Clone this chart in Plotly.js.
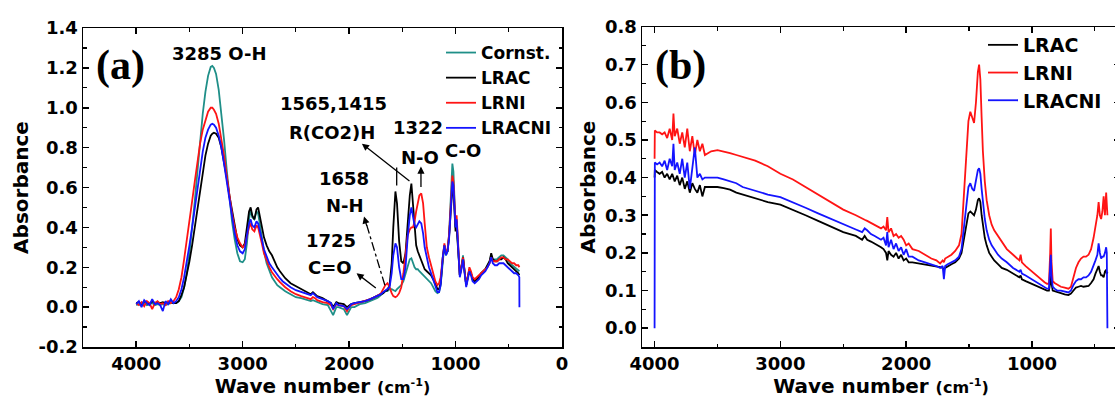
<!DOCTYPE html>
<html><head><meta charset="utf-8">
<script src="https://cdn.plot.ly/plotly-3.0.1.min.js"></script>
<style>html,body{margin:0;padding:0;overflow:hidden;background:#fff;width:1115px;height:401px}#chart{width:1140px;height:401px}</style>
</head><body><div id="chart"></div><script>
// ---------- Panel (a) data ----------
const wnA = [
 4000,3975,3950,3925,3900,3875,3850,3825,3800,3775,
 3750,3725,3700,3675,3650,3625,3600,3575,3550,3525,
 3500,3475,3450,3425,3400,3375,3350,3325,3300,3285,
 3270,3250,3225,3200,3175,3150,3125,3100,3075,3050,
 3025,3000,2980,2960,2940,2925,2910,2890,2870,2855,
 2840,2820,2800,2775,2750,2725,2700,2675,2650,2625,
 2600,2550,2500,2450,2400,2360,2340,2320,2300,2250,
 2200,2170,2150,2120,2100,2050,2020,2000,1980,1950,
 1900,1850,1800,1760,1740,1725,1700,1680,1660,1640,
 1620,1600,1585,1565,1550,1530,1510,1490,1470,1450,
 1430,1415,1400,1385,1370,1355,1340,1322,1305,1290,
 1270,1250,1230,1210,1190,1170,1155,1140,1120,1105,
 1090,1075,1060,1045,1030,1020,1010,1000,990,975,
 960,945,930,915,900,885,870,855,840,820,
 800,780,760,740,720,700,680,665,650,630,
 610,590,570,550,530,510,490,470,450,430,
 410,401,400];
const cornstA = [
 0.01,0.015,0.01,0.02,0.01,0.015,0.02,0.01,0.015,0.01,
 0.015,0.01,0.015,0.02,0.02,0.02,0.03,0.05,0.10,0.17,
 0.27,0.39,0.53,0.68,0.83,0.97,1.08,1.16,1.205,1.21,
 1.20,1.17,1.09,0.98,0.84,0.69,0.55,0.43,0.34,0.27,
 0.23,0.225,0.24,0.32,0.44,0.49,0.45,0.44,0.48,0.47,
 0.42,0.35,0.28,0.22,0.18,0.15,0.13,0.11,0.10,0.09,
 0.08,0.065,0.05,0.045,0.035,0.03,0.035,0.03,0.025,0.015,
 0.01,-0.02,-0.04,0.0,0.0,-0.01,-0.04,-0.02,0.0,0.0,
 0.015,0.02,0.03,0.04,0.045,0.05,0.06,0.07,0.08,0.08,
 0.09,0.09,0.085,0.08,0.09,0.10,0.11,0.13,0.17,0.21,
 0.24,0.245,0.22,0.20,0.19,0.19,0.18,0.17,0.16,0.15,
 0.14,0.13,0.12,0.10,0.08,0.07,0.075,0.11,0.24,0.31,
 0.26,0.28,0.37,0.55,0.72,0.68,0.50,0.40,0.43,0.30,
 0.16,0.20,0.26,0.18,0.11,0.15,0.19,0.17,0.14,0.13,
 0.14,0.15,0.17,0.18,0.19,0.21,0.23,0.26,0.24,0.24,
 0.24,0.25,0.26,0.26,0.25,0.24,0.22,0.21,0.20,0.19,
 0.18,0.18,0.18];
const lracA = [
 0.02,0.025,0.015,0.03,0.02,0.015,0.03,0.02,0.025,0.02,
 0.025,0.02,0.02,0.025,0.02,0.02,0.03,0.06,0.10,0.16,
 0.23,0.31,0.40,0.50,0.59,0.68,0.76,0.82,0.86,0.87,
 0.875,0.87,0.85,0.80,0.73,0.65,0.56,0.48,0.40,0.34,
 0.31,0.30,0.32,0.40,0.48,0.50,0.46,0.44,0.49,0.50,
 0.46,0.40,0.35,0.31,0.28,0.26,0.23,0.20,0.18,0.16,
 0.145,0.12,0.105,0.09,0.075,0.065,0.075,0.065,0.055,0.045,
 0.03,0.02,0.0,0.025,0.02,0.015,0.0,0.01,0.015,0.02,
 0.025,0.03,0.04,0.05,0.055,0.06,0.065,0.07,0.08,0.085,
 0.11,0.22,0.40,0.58,0.52,0.33,0.23,0.22,0.27,0.42,
 0.56,0.62,0.52,0.38,0.31,0.28,0.26,0.24,0.21,0.19,
 0.18,0.17,0.16,0.14,0.11,0.09,0.09,0.12,0.25,0.31,
 0.27,0.28,0.36,0.50,0.60,0.58,0.46,0.38,0.40,0.30,
 0.16,0.20,0.25,0.18,0.11,0.15,0.19,0.17,0.14,0.13,
 0.14,0.15,0.17,0.18,0.19,0.21,0.23,0.27,0.24,0.23,
 0.23,0.24,0.24,0.25,0.24,0.22,0.21,0.20,0.19,0.18,
 0.17,0.16,0.16];
const lrniA = [
 0.02,0.01,0.025,0.005,0.03,0.02,-0.01,0.02,0.03,0.015,
 0.02,0.01,0.03,0.02,0.03,0.05,0.09,0.15,0.24,0.33,
 0.43,0.53,0.63,0.73,0.82,0.89,0.94,0.98,1.0,1.0,
 0.99,0.97,0.92,0.85,0.76,0.66,0.56,0.47,0.40,0.35,
 0.32,0.30,0.31,0.36,0.40,0.42,0.39,0.38,0.41,0.40,
 0.37,0.32,0.27,0.23,0.20,0.175,0.155,0.14,0.125,0.11,
 0.10,0.08,0.065,0.055,0.045,0.04,0.05,0.045,0.035,0.025,
 0.02,0.01,-0.01,0.015,0.01,0.005,-0.02,0.0,0.01,0.015,
 0.02,0.03,0.04,0.05,0.055,0.06,0.07,0.09,0.11,0.12,
 0.10,0.07,0.055,0.05,0.055,0.07,0.10,0.17,0.28,0.36,
 0.39,0.40,0.40,0.43,0.48,0.53,0.56,0.57,0.52,0.42,
 0.30,0.25,0.21,0.17,0.13,0.11,0.12,0.15,0.27,0.32,
 0.27,0.29,0.37,0.52,0.66,0.63,0.50,0.42,0.46,0.32,
 0.16,0.20,0.25,0.18,0.11,0.15,0.20,0.18,0.15,0.14,
 0.15,0.16,0.17,0.18,0.19,0.20,0.22,0.25,0.23,0.23,
 0.23,0.24,0.25,0.25,0.24,0.24,0.23,0.22,0.22,0.21,
 0.21,0.20,0.20];
const lracniA = [
 0.015,0.03,0.0,0.035,0.02,0.01,0.04,0.015,0.02,0.01,
 -0.02,0.03,0.015,0.04,0.02,0.03,0.05,0.09,0.15,0.22,
 0.31,0.40,0.50,0.60,0.70,0.78,0.85,0.89,0.915,0.92,
 0.915,0.90,0.86,0.80,0.72,0.63,0.54,0.45,0.37,0.31,
 0.28,0.27,0.29,0.36,0.42,0.44,0.41,0.40,0.43,0.42,
 0.39,0.34,0.29,0.25,0.22,0.20,0.18,0.16,0.145,0.13,
 0.12,0.10,0.085,0.075,0.065,0.06,0.07,0.06,0.05,0.04,
 0.03,0.02,-0.01,0.02,0.01,0.005,-0.01,0.0,0.015,0.02,
 0.025,0.03,0.04,0.05,0.055,0.06,0.065,0.075,0.085,0.09,
 0.10,0.17,0.26,0.32,0.30,0.20,0.14,0.14,0.20,0.35,
 0.46,0.50,0.46,0.41,0.40,0.42,0.43,0.42,0.37,0.30,
 0.24,0.20,0.17,0.14,0.10,0.075,0.075,0.11,0.25,0.31,
 0.26,0.28,0.35,0.50,0.63,0.61,0.47,0.40,0.44,0.30,
 0.15,0.19,0.24,0.17,0.10,0.14,0.18,0.16,0.13,0.12,
 0.13,0.14,0.16,0.17,0.18,0.20,0.22,0.25,0.22,0.21,
 0.21,0.22,0.22,0.22,0.21,0.20,0.19,0.18,0.17,0.17,
 0.16,0.15,0.0];

// ---------- Panel (b) data ----------
const wnB = [
 4000,3998,3980,3960,3940,3920,3900,3880,3860,3850,
 3840,3820,3800,3780,3760,3740,3720,3700,3680,3660,
 3640,3620,3600,3550,3500,3450,3400,3350,3300,3200,
 3100,3000,2900,2800,2700,2600,2500,2400,2350,2330,
 2310,2280,2250,2200,2180,2160,2150,2140,2120,2100,
 2080,2060,2040,2020,2000,1980,1950,1900,1850,1800,
 1760,1730,1710,1700,1690,1670,1640,1610,1580,1560,
 1540,1520,1505,1490,1475,1460,1445,1430,1420,1410,
 1400,1390,1375,1360,1340,1320,1300,1270,1240,1200,
 1150,1100,1090,1080,1050,1000,950,900,880,865,
 855,850,845,835,820,800,770,740,710,690,
 670,650,630,610,590,570,550,530,510,495,
 480,470,460,450,440,430,420,410,405,400];
const lracB = [
 0.40,0.42,0.415,0.41,0.415,0.40,0.41,0.395,0.41,0.40,
 0.39,0.405,0.38,0.40,0.37,0.39,0.36,0.385,0.37,0.36,
 0.38,0.35,0.375,0.375,0.375,0.372,0.368,0.36,0.355,0.345,
 0.335,0.328,0.315,0.30,0.285,0.27,0.255,0.245,0.235,0.245,
 0.235,0.23,0.225,0.215,0.21,0.20,0.18,0.205,0.195,0.19,
 0.20,0.185,0.195,0.18,0.185,0.175,0.175,0.172,0.17,0.168,
 0.165,0.162,0.16,0.155,0.16,0.165,0.17,0.175,0.185,0.20,
 0.24,0.285,0.305,0.31,0.305,0.30,0.315,0.34,0.345,0.335,
 0.30,0.27,0.24,0.22,0.20,0.19,0.18,0.17,0.16,0.155,
 0.145,0.135,0.14,0.13,0.125,0.118,0.11,0.102,0.10,0.10,
 0.12,0.15,0.12,0.10,0.098,0.095,0.093,0.09,0.088,0.092,
 0.10,0.108,0.11,0.112,0.11,0.11,0.112,0.12,0.13,0.145,
 0.155,0.165,0.15,0.14,0.14,0.135,0.15,0.155,0.145,0.15];
const lrniB = [
 0.45,0.525,0.52,0.52,0.515,0.52,0.505,0.53,0.50,0.57,
 0.51,0.53,0.49,0.52,0.48,0.53,0.47,0.51,0.46,0.50,
 0.47,0.49,0.46,0.47,0.473,0.47,0.465,0.46,0.455,0.445,
 0.43,0.41,0.395,0.375,0.355,0.335,0.315,0.30,0.29,0.288,
 0.285,0.28,0.275,0.265,0.27,0.26,0.295,0.255,0.265,0.245,
 0.25,0.24,0.245,0.235,0.22,0.225,0.21,0.205,0.195,0.185,
 0.18,0.172,0.18,0.175,0.185,0.19,0.195,0.205,0.22,0.25,
 0.36,0.48,0.55,0.575,0.56,0.545,0.60,0.68,0.70,0.66,
 0.56,0.47,0.39,0.34,0.30,0.275,0.26,0.245,0.23,0.21,
 0.195,0.18,0.195,0.175,0.165,0.15,0.135,0.122,0.118,0.118,
 0.20,0.265,0.18,0.125,0.12,0.115,0.11,0.108,0.105,0.11,
 0.135,0.16,0.175,0.185,0.19,0.19,0.195,0.21,0.24,0.27,
 0.30,0.335,0.30,0.29,0.31,0.35,0.30,0.36,0.33,0.30];
const lracniB = [
 0.0,0.44,0.435,0.44,0.43,0.445,0.42,0.45,0.43,0.49,
 0.42,0.44,0.41,0.45,0.40,0.44,0.37,0.42,0.48,0.40,
 0.41,0.395,0.40,0.40,0.40,0.395,0.39,0.385,0.375,0.365,
 0.355,0.348,0.335,0.32,0.305,0.29,0.275,0.262,0.255,0.265,
 0.26,0.25,0.245,0.235,0.24,0.22,0.255,0.215,0.235,0.21,
 0.225,0.205,0.215,0.195,0.21,0.19,0.19,0.18,0.175,0.17,
 0.165,0.16,0.165,0.13,0.165,0.17,0.175,0.18,0.19,0.21,
 0.27,0.34,0.375,0.385,0.37,0.365,0.39,0.42,0.425,0.41,
 0.37,0.33,0.29,0.26,0.235,0.22,0.21,0.195,0.185,0.175,
 0.16,0.15,0.155,0.145,0.14,0.13,0.12,0.11,0.105,0.105,
 0.15,0.195,0.14,0.11,0.105,0.10,0.10,0.098,0.095,0.10,
 0.115,0.125,0.13,0.13,0.135,0.135,0.14,0.15,0.165,0.18,
 0.195,0.225,0.20,0.185,0.19,0.19,0.20,0.215,0.20,0.0];

// ---------- labels ----------
const seriesNamesA = ['Cornst.','LRAC','LRNI','LRACNI'];
const seriesNamesB = ['LRAC','LRNI','LRACNI'];
const peakLabels = ['3285 O-H','1565,1415','R(CO2)H','1322','N-O','C-O','1658','N-H','1725','C=O'];
const yTickValsA = [-0.2,0,0.2,0.4,0.6,0.8,1.0,1.2,1.4];
const yTickTextA = ['-0.2','0.0','0.2','0.4','0.6','0.8','1.0','1.2','1.4'];
const yTickValsB = [0,0.1,0.2,0.3,0.4,0.5,0.6,0.7,0.8];
const yTickTextB = ['0.0','0.1','0.2','0.3','0.4','0.5','0.6','0.7','0.8'];
const xTickValsA = [4000,3000,2000,1000,0];
const xTickValsB = [4000,3000,2000,1000];

const colors = {cornst:'#1f8f88', lrac:'#000000', lrni:'#ff1414', lracni:'#1414ff'};
const FONT = 'DejaVu Sans, Arial, sans-serif';
const W = 1140, H = 401;

function tr(x, y, name, color, xa, ya, leg){
  return {x:x, y:y, name:name, type:'scatter', mode:'lines', xaxis:xa, yaxis:ya, legend:leg,
          line:{color:color, width:1.8}, hoverinfo:'skip'};
}
const data = [
  tr(wnA, cornstA, seriesNamesA[0], colors.cornst, 'x','y','legend'),
  tr(wnA, lracA,   seriesNamesA[1], colors.lrac,   'x','y','legend'),
  tr(wnA, lrniA,   seriesNamesA[2], colors.lrni,   'x','y','legend'),
  tr(wnA, lracniA, seriesNamesA[3], colors.lracni, 'x','y','legend'),
  tr(wnB, lracB,   seriesNamesB[0], colors.lrac,   'x2','y2','legend2'),
  tr(wnB, lrniB,   seriesNamesB[1], colors.lrni,   'x2','y2','legend2'),
  tr(wnB, lracniB, seriesNamesB[2], colors.lracni, 'x2','y2','legend2')
];

const tickFont = {family:FONT, size:18, weight:'bold', color:'#000'};
const titleFont = {family:FONT, size:20, weight:'bold', color:'#000'};
function axisCommon(){
  return {showline:true, linewidth:1.5, linecolor:'#000', mirror:'allticks', ticks:'inside',
          ticklen:6, tickwidth:1.5, tickcolor:'#000', showgrid:false, zeroline:false,
          tickfont:tickFont, automargin:false, fixedrange:true};
}
const xTitle = 'Wave number <span style="font-size:16px">(cm<sup>-1</sup>)</span>';

const layout = {
  width:W, height:H, margin:{l:0,r:0,t:0,b:0}, paper_bgcolor:'#fff', plot_bgcolor:'rgba(0,0,0,0)',
  showlegend:true,
  xaxis: Object.assign(axisCommon(), {domain:[83/W, 562/W], range:[4500,0], anchor:'y',
         tickmode:'array', tickvals:xTickValsA, minor:{dtick:500, tick0:0, ticks:'inside', ticklen:3.5, tickwidth:1.2, tickcolor:'#000'},
         title:{text:xTitle, font:titleFont, standoff:2}}),
  yaxis: Object.assign(axisCommon(), {domain:[(H-347)/H, (H-28)/H], range:[-0.2,1.4], anchor:'x',
         tickmode:'array', tickvals:yTickValsA, ticktext:yTickTextA, minor:{dtick:0.1, tick0:0, ticks:'inside', ticklen:3.5, tickwidth:1.2, tickcolor:'#000'},
         title:{text:'Absorbance', font:titleFont, standoff:4}}),
  xaxis2: Object.assign(axisCommon(), {domain:[642/W, 1120/W], range:[4100,300], anchor:'y2',
         tickmode:'array', tickvals:xTickValsB, minor:{dtick:500, tick0:0, ticks:'inside', ticklen:3.5, tickwidth:1.2, tickcolor:'#000'},
         title:{text:xTitle, font:titleFont, standoff:2}}),
  yaxis2: Object.assign(axisCommon(), {domain:[(H-347)/H, (H-27)/H], range:[-0.05,0.8], anchor:'x2',
         tickmode:'array', tickvals:yTickValsB, ticktext:yTickTextB, minor:{dtick:0.05, tick0:0, ticks:'inside', ticklen:3.5, tickwidth:1.2, tickcolor:'#000'},
         title:{text:'Absorbance', font:titleFont, standoff:4}}),
  legend:{x:441/W, y:1-35/H, xanchor:'left', yanchor:'top', bgcolor:'rgba(0,0,0,0)', borderwidth:0,
          font:{family:FONT, size:17, weight:'bold', color:'#000'}, itemwidth:30, tracegroupgap:0},
  legend2:{x:983/W, y:1-26/H, xanchor:'left', yanchor:'top', bgcolor:'rgba(0,0,0,0)', borderwidth:0,
          font:{family:FONT, size:19, weight:'bold', color:'#000'}, itemwidth:30, tracegroupgap:0},
  shapes:[
    {type:'line', xref:'x', yref:'y', x0:1553, x1:1553, y0:0.61, y1:0.70, line:{color:'#000', width:1.3}},
    {type:'line', xref:'x', yref:'y', x0:1664, y0:0.11, x1:1845, y1:0.43, line:{color:'#000', width:1.3, dash:'dashdot'}}
  ],
  annotations:[]
};

const annFont = {family:FONT, size:18, weight:'bold', color:'#000'};
const labelPos = [[3213,1.273],[2151,1.023],[2161,0.877],[1353,0.902],[1334,0.752],[930,0.787],[2048,0.647],[2039,0.511],[2170,0.336],[2180,0.200]];
peakLabels.forEach(function(t,i){
  layout.annotations.push({xref:'x', yref:'y', x:labelPos[i][0], y:labelPos[i][1], text:t, showarrow:false,
    font:annFont, xanchor:'center', yanchor:'middle'});
});
function arrow(hx,hy,tx,ty){
  return {xref:'x', yref:'y', axref:'x', ayref:'y', x:hx, y:hy, ax:tx, ay:ty, text:'', showarrow:true,
          arrowhead:2, arrowsize:1.1, arrowwidth:1.3, arrowcolor:'#000'};
}
layout.annotations.push(arrow(1880,0.82,1419,0.627));
layout.annotations.push(arrow(1325,0.705,1325,0.595));
layout.annotations.push(arrow(1930,0.17,1735,0.09));
layout.annotations.push(arrow(1860,0.455,1830,0.40));
layout.annotations.push({xref:'paper', yref:'paper', x:120/W, y:1-65/H, text:'(a)', showarrow:false,
  font:{family:'Liberation Serif, Times New Roman, serif', size:42, weight:'bold', color:'#000'}, xanchor:'center', yanchor:'middle'});
layout.annotations.push({xref:'paper', yref:'paper', x:680/W, y:1-65/H, text:'(b)', showarrow:false,
  font:{family:'Liberation Serif, Times New Roman, serif', size:42, weight:'bold', color:'#000'}, xanchor:'center', yanchor:'middle'});

Plotly.newPlot('chart', data, layout, {staticPlot:true, displayModeBar:false});
</script></body></html>
